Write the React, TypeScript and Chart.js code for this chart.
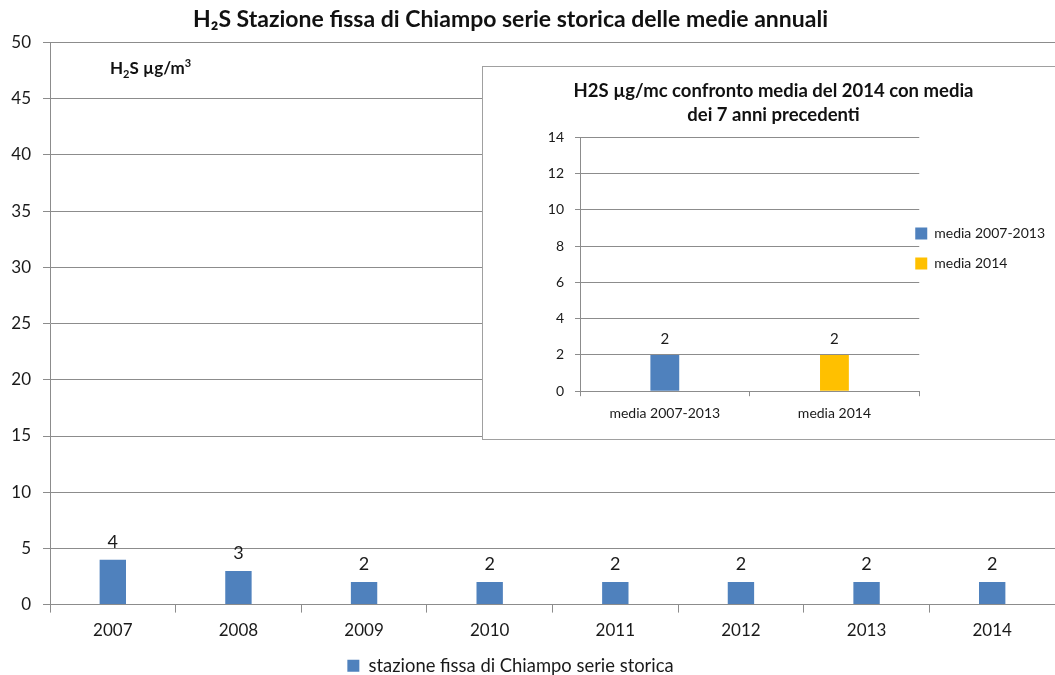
import React, { useEffect, useRef } from "react";
import { Chart, registerables } from "chart.js";

Chart.register(...registerables);

const years = ["2007", "2008", "2009", "2010", "2011", "2012", "2013", "2014"];
const annualMeans = [4, 3, 2, 2, 2, 2, 2, 2];
const mainYTicks = { min: 0, max: 50, step: 5 };

const insetCategories = ["media 2007-2013", "media 2014"];
const insetSeriesLabels = ["media 2007-2013", "media 2014"];
const insetValues = [2, 2];
const insetYTicks = { min: 0, max: 14, step: 2 };

const BLUE = "#4F81BD";
const YELLOW = "#FFC000";
const GRID = "#8c8c8c";
const FONT = "Lato, 'Open Sans', sans-serif";

const valueLabels = {
  id: "valueLabels",
  afterDatasetsDraw(chart: any, _args: any, opts: any) {
    const ctx = chart.ctx;
    ctx.save();
    ctx.fillStyle = "#1a1a1a";
    ctx.font = `${opts.size || 16}px ${FONT}`;
    ctx.textAlign = "center";
    ctx.textBaseline = "alphabetic";
    chart.data.datasets.forEach((ds: any, di: number) => {
      const meta = chart.getDatasetMeta(di);
      meta.data.forEach((bar: any, i: number) => {
        const v = ds.data[i];
        if (v === null || v === undefined) return;
        ctx.fillText(String(v), bar.x, bar.y - (opts.gap || 6));
      });
    });
    ctx.restore();
  },
};

// Excel places title/legend slightly off the canvas centre: nudge the boxes
const boxShift = {
  id: "boxShift",
  afterLayout(chart: any, _args: any, opts: any) {
    const t = chart.titleBlock;
    if (t && opts.title) {
      t.left += opts.title.dx || 0;
      t.right += opts.title.dx || 0;
    }
    const l = chart.legend;
    if (l && opts.legend) {
      const dx = opts.legend.dx || 0;
      const dy = opts.legend.dy || 0;
      l.left += dx;
      if (opts.legend.moveRight) l.right += dx;
      l.top += dy;
      l.bottom += dy;
    }
  },
};

function MainChart() {
  const ref = useRef<HTMLCanvasElement>(null);
  useEffect(() => {
    const chart = new Chart(ref.current!, {
      type: "bar",
      data: {
        labels: years,
        datasets: [
          {
            label: "stazione fissa di Chiampo serie storica",
            data: annualMeans,
            backgroundColor: BLUE,
            barPercentage: 0.21,
            categoryPercentage: 1,
          },
        ],
      },
      plugins: [valueLabels, boxShift],
      options: {
        animation: false,
        responsive: true,
        maintainAspectRatio: false,
        layout: { padding: { left: 0, right: 0, top: 0, bottom: 0 } },
        plugins: {
          valueLabels: { size: 18, gap: 12 },
          boxShift: { title: { dx: -17 }, legend: { dx: -17, moveRight: true } },
          tooltip: { enabled: false },
          title: {
            display: true,
            text: "H₂S Stazione fissa di Chiampo serie storica delle medie annuali",
            color: "#111",
            font: { family: FONT, size: 23, weight: "bold", lineHeight: 1.2 },
            padding: { top: 6, bottom: 9 },
          },
          legend: {
            display: true,
            position: "bottom",
            labels: {
              color: "#1a1a1a",
              font: { family: FONT, size: 18.4 },
              boxWidth: 12,
              boxHeight: 12,
              padding: 1,
            },
          },
        } as any,
        scales: {
          x: {
            grid: {
              offset: true,
              drawOnChartArea: false,
              color: GRID,
              tickLength: 8,
            },
            border: { color: GRID },
            ticks: { color: "#1a1a1a", font: { family: FONT, size: 17 }, padding: 8 },
            afterFit: (s: any) => {
              s.height = 51;
            },
          },
          y: {
            min: mainYTicks.min,
            max: mainYTicks.max,
            ticks: {
              stepSize: mainYTicks.step,
              color: "#1a1a1a",
              font: { family: FONT, size: 17 },
              padding: 12,
            },
            grid: { color: GRID, tickLength: 7 },
            border: { color: GRID },
            afterFit: (s: any) => {
              s.width = 50;
            },
          },
        },
      } as any,
    });
    return () => chart.destroy();
  }, []);
  return <canvas ref={ref} />;
}

function InsetChart() {
  const ref = useRef<HTMLCanvasElement>(null);
  useEffect(() => {
    const chart = new Chart(ref.current!, {
      type: "bar",
      data: {
        labels: insetCategories,
        datasets: [
          {
            label: insetSeriesLabels[0],
            data: [insetValues[0], null],
            backgroundColor: BLUE,
            barPercentage: 0.17,
            categoryPercentage: 1,
            grouped: false,
          },
          {
            label: insetSeriesLabels[1],
            data: [null, insetValues[1]],
            backgroundColor: YELLOW,
            barPercentage: 0.17,
            categoryPercentage: 1,
            grouped: false,
          },
        ],
      },
      plugins: [valueLabels, boxShift],
      options: {
        animation: false,
        responsive: true,
        maintainAspectRatio: false,
        layout: { padding: { left: 0, right: 8, top: 0, bottom: 9 } },
        plugins: {
          valueLabels: { size: 15, gap: 11 },
          boxShift: { title: { dx: 0 }, legend: { dx: -20, dy: 0 } },
          tooltip: { enabled: false },
          title: {
            display: true,
            text: ["H2S µg/mc confronto media del 2014 con media", "dei 7 anni precedenti"],
            color: "#111",
            font: { family: FONT, size: 18.5, weight: "bold", lineHeight: 1.3 },
            padding: { top: 13, bottom: 10 },
          },
          legend: {
            display: true,
            position: "right",
            labels: {
              color: "#1a1a1a",
              font: { family: FONT, size: 14 },
              boxWidth: 12,
              boxHeight: 12,
              padding: 16,
            },
          },
        } as any,
        scales: {
          x: {
            grid: {
              offset: true,
              drawOnChartArea: false,
              color: GRID,
              tickLength: 5,
            },
            border: { color: GRID },
            ticks: { color: "#1a1a1a", font: { family: FONT, size: 14 }, padding: 9 },
          },
          y: {
            min: insetYTicks.min,
            max: insetYTicks.max,
            ticks: {
              stepSize: insetYTicks.step,
              color: "#1a1a1a",
              font: { family: FONT, size: 14 },
              padding: 11,
            },
            grid: { color: GRID, tickLength: 5 },
            border: { color: GRID },
            afterFit: (s: any) => {
              s.width = 98;
            },
          },
        },
      } as any,
    });
    return () => chart.destroy();
  }, []);
  return <canvas ref={ref} />;
}

export default function App() {
  return (
    <div
      style={{
        position: "fixed",
        left: 0,
        top: 0,
        width: 1055,
        height: 675,
        overflow: "hidden",
        background: "#fff",
      }}
    >
      <div style={{ position: "absolute", left: 0, top: 0, width: 1055, height: 685 }}>
        <MainChart />
      </div>
      <div
        style={{
          position: "absolute",
          left: 110,
          top: 53,
          fontFamily: FONT,
          fontWeight: "bold",
          fontSize: 17,
          color: "#111",
          lineHeight: "20px",
        }}
      >
        H<sub style={{ fontSize: 11 }}>2</sub>S µg/m<sup style={{ fontSize: 11 }}>3</sup>
      </div>
      <div
        style={{
          position: "absolute",
          left: 482,
          top: 66,
          width: 578,
          height: 374,
          border: "1px solid #a0a0a0",
          background: "#fff",
          boxSizing: "border-box",
        }}
      >
        <div style={{ position: "absolute", left: -1, top: -1, width: 591, height: 374 }}>
          <InsetChart />
        </div>
      </div>
    </div>
  );
}
